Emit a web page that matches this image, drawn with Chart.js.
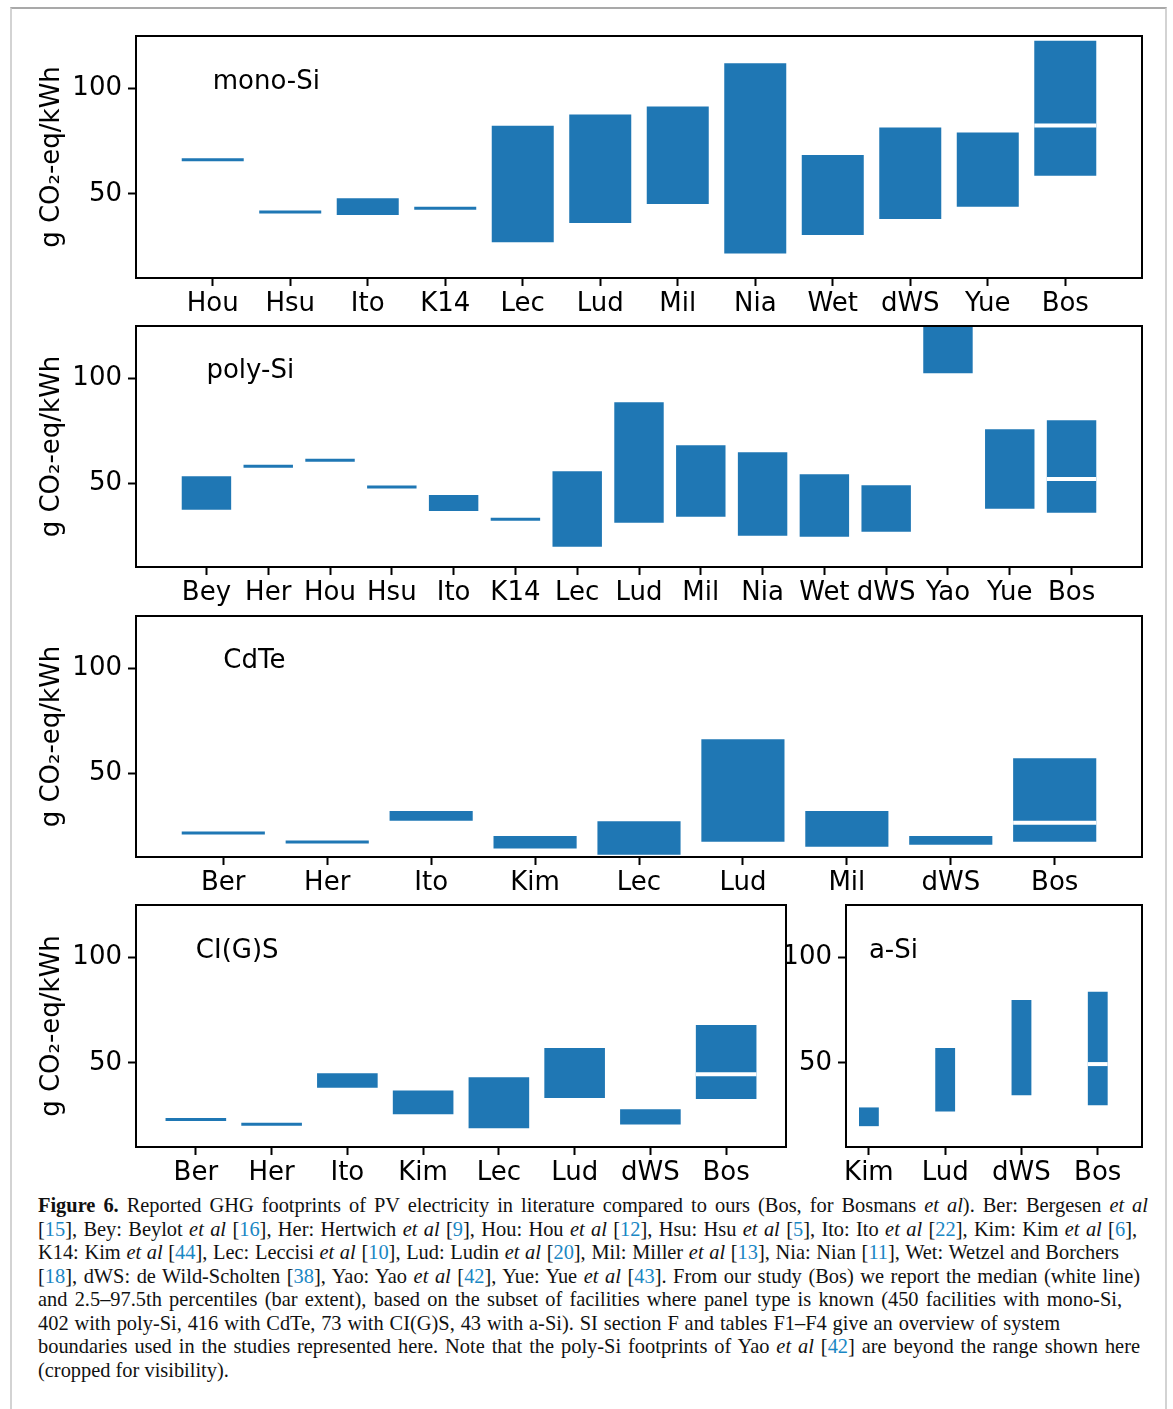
<!DOCTYPE html>
<html>
<head>
<meta charset="utf-8">
<script src="https://cdn.jsdelivr.net/npm/chart.js"></script>
<style>
  body { margin: 0; background: #fff; }
  #fig { position: relative; width: 1173px; height: 1409px; overflow: hidden; }
  #frame { position: absolute; left: 10px; top: 7px; width: 1153px; height: 1420px;
           border-top: 2px solid #a9a9a9; border-left: 2px solid #d3d3d3; border-right: 2px solid #d3d3d3; }
  canvas { position: absolute; }
  #caption { position: absolute; left: 38px; top: 1194px; font-family: "Liberation Serif", serif;
             font-size: 20.4px; line-height: 23.5px; color: #111; }
  #caption div { text-align: justify; text-align-last: justify; }
  #caption div.last { text-align: left; text-align-last: left; }
  #caption i { font-style: italic; }
  .c { color: #1a87c4; }
</style>
</head>
<body>
<div id="fig">
  <div id="frame"></div>
  <canvas id="mono"></canvas>
  <canvas id="poly"></canvas>
  <canvas id="cdte"></canvas>
  <canvas id="cigs"></canvas>
  <canvas id="asi"></canvas>
  <div id="caption">
    <div style="width:1110px"><b>Figure 6.</b> Reported GHG footprints of PV electricity in literature compared to ours (Bos, for Bosmans <i>et al</i>). Ber: Bergesen <i>et al</i></div>
    <div style="width:1099px">[<span class="c">15</span>], Bey: Beylot <i>et al</i> [<span class="c">16</span>], Her: Hertwich <i>et al</i> [<span class="c">9</span>], Hou: Hou <i>et al</i> [<span class="c">12</span>], Hsu: Hsu <i>et al</i> [<span class="c">5</span>], Ito: Ito <i>et al</i> [<span class="c">22</span>], Kim: Kim <i>et al</i> [<span class="c">6</span>],</div>
    <div style="width:1081px">K14: Kim <i>et al</i> [<span class="c">44</span>], Lec: Leccisi <i>et al</i> [<span class="c">10</span>], Lud: Ludin <i>et al</i> [<span class="c">20</span>], Mil: Miller <i>et al</i> [<span class="c">13</span>], Nia: Nian [<span class="c">11</span>], Wet: Wetzel and Borchers</div>
    <div style="width:1102px">[<span class="c">18</span>], dWS: de Wild-Scholten [<span class="c">38</span>], Yao: Yao <i>et al</i> [<span class="c">42</span>], Yue: Yue <i>et al</i> [<span class="c">43</span>]. From our study (Bos) we report the median (white line)</div>
    <div style="width:1084px">and 2.5–97.5th percentiles (bar extent), based on the subset of facilities where panel type is known (450 facilities with mono-Si,</div>
    <div style="width:1022px">402 with poly-Si, 416 with CdTe, 73 with CI(G)S, 43 with a-Si). SI section F and tables F1–F4 give an overview of system</div>
    <div style="width:1102px">boundaries used in the studies represented here. Note that the poly-Si footprints of Yao <i>et al</i> [<span class="c">42</span>] are beyond the range shown here</div>
    <div class="last">(cropped for visibility).</div>
  </div>
</div>

<script>
// data (g CO2-eq/kWh); low == high means a single reported value
const yTicks = [50, 100];

const monoLabels = ["Hou", "Hsu", "Ito", "K14", "Lec", "Lud", "Mil", "Nia", "Wet", "dWS", "Yue", "Bos"];
const monoLow    = [65.5, 40.6, 39.9, 42.4, 27.0, 36.1, 45.2, 21.7, 30.4, 38.0, 43.8, 58.6];
const monoHigh   = [65.5, 40.6, 47.9, 42.4, 82.4, 87.7, 91.5, 112.1, 68.5, 81.5, 79.1, 122.7];
const monoBosMedian = 82.5;

const polyLabels = ["Bey", "Her", "Hou", "Hsu", "Ito", "K14", "Lec", "Lud", "Mil", "Nia", "Wet", "dWS", "Yao", "Yue", "Bos"];
const polyLow    = [37.3, 57.4, 60.2, 47.4, 36.7, 32.1, 19.7, 31.1, 34.0, 24.9, 24.4, 26.8, 102.5, 37.8, 35.9];
const polyHigh   = [53.3, 57.4, 60.2, 47.4, 44.3, 32.1, 55.7, 88.6, 68.1, 64.8, 54.3, 49.0, 140, 75.7, 80.0]; // Yao cropped
const polyBosMedian = 52.0;

const cdteLabels = ["Ber", "Her", "Ito", "Kim", "Lec", "Lud", "Mil", "dWS", "Bos"];
const cdteLow    = [20.7, 16.4, 27.3, 14.0, 11.1, 17.3, 14.9, 15.9, 17.3];
const cdteHigh   = [20.7, 16.4, 31.9, 20.0, 27.1, 66.2, 31.9, 20.0, 57.1];
const cdteBosMedian = 26.3;

const cigsLabels = ["Ber", "Her", "Ito", "Kim", "Lec", "Lud", "dWS", "Bos"];
const cigsLow    = [22.4, 20.1, 38.1, 25.6, 18.9, 33.3, 20.7, 32.8];
const cigsHigh   = [22.4, 20.1, 45.1, 36.9, 43.2, 57.0, 27.9, 68.0];
const cigsBosMedian = 44.6;

const asiLabels = ["Kim", "Lud", "dWS", "Bos"];
const asiLow    = [19.9, 26.9, 34.6, 29.8];
const asiHigh   = [28.8, 57.0, 79.9, 83.8];
const asiBosMedian = 49.4;

Chart.defaults.font.family = "'DejaVu Sans', sans-serif";
Chart.defaults.font.size = 26;
Chart.defaults.color = "#000";

const blue = "#1f77b4";
const PAD = 24;   // canvas padding above / right of the axes box
const XH = 46;    // height reserved for the category labels

// frame round the axes + panel name at (first category, 100)
const panelDeco = {
    id: "panelDeco",
    afterDraw(chart, args, opts) {
        const a = chart.chartArea;
        const ctx = chart.ctx;
        ctx.save();
        ctx.strokeStyle = "#000";
        ctx.lineWidth = 2;
        ctx.strokeRect(a.left, a.top, a.right - a.left, a.bottom - a.top);
        ctx.font = "26px 'DejaVu Sans'";
        ctx.fillStyle = "#000";
        ctx.textBaseline = "alphabetic";
        ctx.fillText(opts.text, chart.scales.x.getPixelForValue(0), chart.scales.y.getPixelForValue(100));
        ctx.restore();
    }
};

function makePanel(id, name, labels, low, high, median, box) {
    const n = labels.length;
    // matplotlib default 5% margins around bars of width 0.8
    const span = (n - 1) + 0.8;
    const xMin = box.xMin !== undefined ? box.xMin : -0.4 - 0.05 * span;
    const xMax = box.xMax !== undefined ? box.xMax : (n - 1) + 0.4 + 0.05 * span;

    const canvas = document.getElementById(id);
    const w = box.right + PAD - box.canvasLeft;
    const h = (box.bottom - box.top) + PAD + XH;
    canvas.width = w;
    canvas.height = h;
    canvas.style.left = box.canvasLeft + "px";
    canvas.style.top = (box.top - PAD) + "px";

    const ranges = labels.map((l, i) => ({ x: i, y: [low[i], high[i]] }));
    const medians = [{ x: n - 1, y: [median, median] }];

    return new Chart(canvas, {
        type: "bar",
        data: {
            datasets: [
                {
                    data: ranges,
                    backgroundColor: blue,
                    minBarLength: 3,
                    barPercentage: box.barPct || 0.8,
                    categoryPercentage: 1,
                    grouped: false,
                    clip: 0,
                    order: 2,
                },
                {
                    data: medians,
                    backgroundColor: "#fff",
                    minBarLength: 4,
                    base: median,
                    barPercentage: box.barPct || 0.8,
                    categoryPercentage: 1,
                    grouped: false,
                    order: 1,
                },
            ],
        },
        options: {
            responsive: false,
            animation: false,
            events: [],
            layout: { padding: { top: PAD, right: PAD, left: 0, bottom: 0 } },
            plugins: {
                legend: { display: false },
                tooltip: { enabled: false },
                panelDeco: { text: name },
            },
            scales: {
                x: {
                    type: "linear",
                    offset: false,
                    min: xMin,
                    max: xMax,
                    afterBuildTicks: (s) => { s.ticks = labels.map((l, i) => ({ value: i })); },
                    afterFit: (s) => { s.height = XH; },
                    ticks: {
                        autoSkip: false,
                        maxRotation: 0,
                        padding: 3,
                        color: "#000",
                        callback: (v, i) => labels[i],
                    },
                    grid: { offset: false, drawOnChartArea: false, drawTicks: true, tickLength: 8, tickWidth: 2, tickColor: "#000" },
                    border: { display: false },
                },
                y: {
                    min: 10,
                    max: 125,
                    afterBuildTicks: (s) => { s.ticks = yTicks.map((v) => ({ value: v })); },
                    afterFit: (s) => { s.width = box.left - box.canvasLeft; },
                    ticks: { padding: 6, color: "#000" },
                    grid: { drawOnChartArea: false, drawTicks: true, tickLength: 8, tickWidth: 2, tickColor: "#000" },
                    border: { display: false },
                    title: {
                        display: box.yTitle !== false,
                        text: "g CO₂-eq/kWh",
                        color: "#000",
                        font: { size: 26 },
                        padding: { top: 37, bottom: 0 },
                    },
                },
            },
        },
        plugins: [panelDeco],
    });
}

const monoChart = makePanel("mono", "mono-Si", monoLabels, monoLow, monoHigh, monoBosMedian,
    { canvasLeft: 0, left: 136, right: 1142, top: 36, bottom: 278 });
const polyChart = makePanel("poly", "poly-Si", polyLabels, polyLow, polyHigh, polyBosMedian,
    { canvasLeft: 0, left: 136, right: 1142, top: 326, bottom: 567 });
const cdteChart = makePanel("cdte", "CdTe", cdteLabels, cdteLow, cdteHigh, cdteBosMedian,
    { canvasLeft: 0, left: 136, right: 1142, top: 616, bottom: 857 });
const cigsChart = makePanel("cigs", "CI(G)S", cigsLabels, cigsLow, cigsHigh, cigsBosMedian,
    { canvasLeft: 0, left: 136, right: 786, top: 905, bottom: 1147 });
const asiChart = makePanel("asi", "a-Si", asiLabels, asiLow, asiHigh, asiBosMedian,
    { canvasLeft: 770, left: 846, right: 1142, top: 905, bottom: 1147, xMin: -0.30, xMax: 3.58, barPct: 0.26, yTitle: false });
</script>
</body>
</html>
